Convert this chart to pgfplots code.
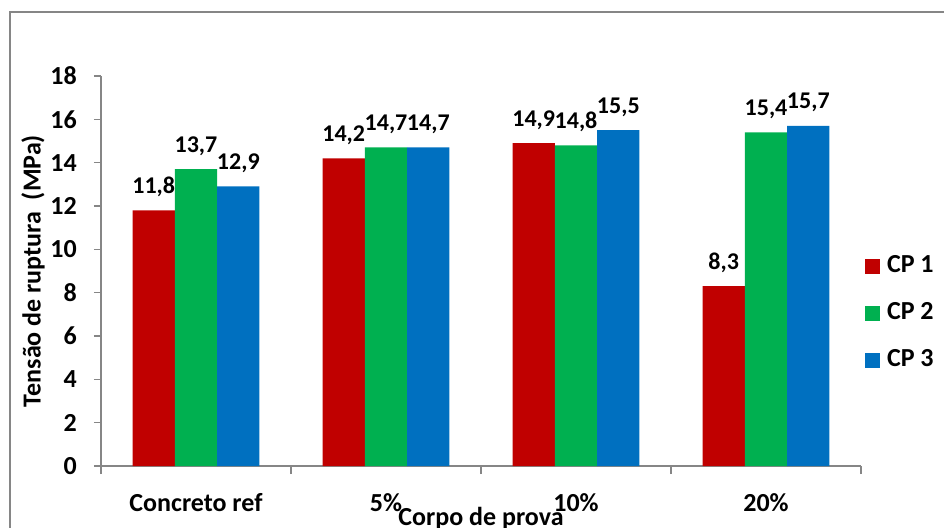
\documentclass[border=0pt]{standalone}
\usepackage{pgfplots}
\pgfplotsset{compat=1.18}
\usepackage{fontspec}
\setmainfont{Carlito}
\definecolor{cpred}{RGB}{192,0,0}
\definecolor{cpgreen}{RGB}{0,176,80}
\definecolor{cpblue}{RGB}{0,112,192}
\definecolor{axgray}{RGB}{134,134,134}
\begin{document}
\begin{tikzpicture}[font=\fontsize{26}{30}\selectfont\bfseries]
\begin{axis}[
  at={(101pt,61pt)}, anchor=south west,
  scale only axis, width=760pt, height=390pt,
  xmin=-0.5, xmax=3.5, ymin=0, ymax=18,
  ybar=0pt, bar width=0.2227,
  axis lines*=left,
  axis line style={axgray, line width=1.3pt, -},
  tick style={axgray, line width=1.3pt},
  tick align=outside,
  major tick length=7pt, minor tick length=8pt,
  xtick={0,1,2,3},
  xticklabels={Concreto ref,5\%,10\%,20\%},
  minor xtick={-0.5,0.5,1.5,2.5,3.5},
  major x tick style={draw=none},
  ytick={0,2,...,18},
  /pgf/number format/assume math mode=true,
  yticklabel style={anchor=east, inner sep=0pt, xshift=-17pt},
  xticklabel style={anchor=base, inner sep=0pt, yshift=-38pt},
  xlabel={Corpo de prova},
  xlabel style={at={(axis description cs:0.5,0)}, anchor=base, yshift=-59pt, inner sep=0pt},
  ylabel={Tensão de ruptura~~(MPa)},
  ylabel style={at={(axis description cs:-0.0895,0.5)}, anchor=center, inner sep=0pt},
  point meta=explicit symbolic,
  nodes near coords,
  nodes near coords style={font=\fontsize{24}{28}\selectfont\bfseries, anchor=base, yshift=17pt, inner sep=0pt},
  legend style={draw=none, fill=none, at={(axis description cs:1.005,0.392)}, anchor=west,
    inner sep=0pt, row sep=25pt, column sep=7pt,
    nodes={inner sep=0pt, text height=17pt, text depth=5pt, anchor=west}},
  legend image code/.code={\fill[#1] (0pt,-7.5pt) rectangle (15pt,7.5pt);},
]
\addplot[fill=cpred, draw=none] coordinates {(0,11.8) [11,8] (1,14.2) [14,2] (2,14.9) [14,9] (3,8.3) [8,3]};
\addplot[fill=cpgreen, draw=none] coordinates {(0,13.7) [13,7] (1,14.7) [14,7] (2,14.8) [14,8] (3,15.4) [15,4]};
\addplot[fill=cpblue, draw=none] coordinates {(0,12.9) [12,9] (1,14.7) [14,7] (2,15.5) [15,5] (3,15.7) [15,7]};
\legend{CP 1, CP 2, CP 3}
\end{axis}
\draw[axgray, line width=2pt] (10pt,-30pt) rectangle (980pt,515pt);
\pgfresetboundingbox
\useasboundingbox (0pt,0pt) rectangle (944pt,527pt);
\end{tikzpicture}
\end{document}
